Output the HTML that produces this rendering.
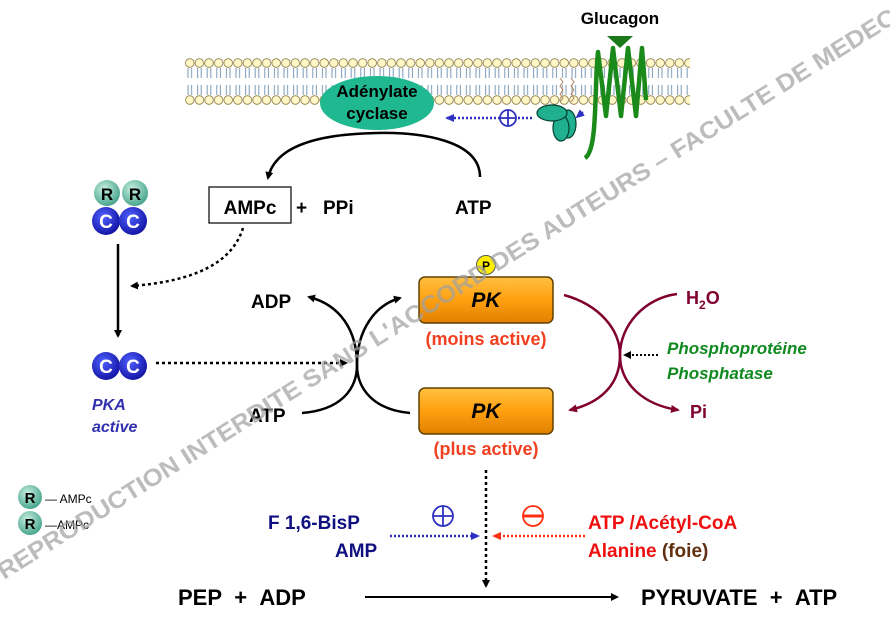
<!DOCTYPE html>
<html><head><meta charset="utf-8"><style>
body{margin:0;background:#fff}
svg{display:block;font-family:"Liberation Sans",Arial,sans-serif;font-weight:bold}
</style></head><body>
<svg width="890" height="626" viewBox="0 0 890 626" xmlns="http://www.w3.org/2000/svg">
<defs>
<pattern id="heads" x="185" y="0" width="9.6" height="200" patternUnits="userSpaceOnUse">
<circle cx="4.8" cy="63" r="4.3" fill="#fff7c8" stroke="#8a7a40" stroke-width="0.8"/>
<circle cx="4.8" cy="100" r="4.3" fill="#fff7c8" stroke="#8a7a40" stroke-width="0.8"/>
<path d="M3 68v10M6.6 68v10M3 85v10M6.6 85v10" stroke="#7a9ab8" stroke-width="1" fill="none"/>
</pattern>
<radialGradient id="teal" cx="0.4" cy="0.35" r="0.7"><stop offset="0" stop-color="#c8f0e0"/><stop offset="1" stop-color="#40a088"/></radialGradient>
<radialGradient id="blue" cx="0.4" cy="0.35" r="0.7"><stop offset="0" stop-color="#5060ff"/><stop offset="1" stop-color="#1010a0"/></radialGradient>
<linearGradient id="or" x1="0" y1="0" x2="0" y2="1"><stop offset="0" stop-color="#ffc040"/><stop offset="0.5" stop-color="#ffa010"/><stop offset="1" stop-color="#e08000"/></linearGradient>
<marker id="ab" markerWidth="8" markerHeight="8" refX="6" refY="4" orient="auto" markerUnits="userSpaceOnUse"><path d="M0,0L8,4L0,8z" fill="#000"/></marker>
<marker id="am" markerWidth="9" markerHeight="8" refX="7" refY="4" orient="auto" markerUnits="userSpaceOnUse"><path d="M0,0L9,4L0,8z" fill="#800030"/></marker>
<marker id="abl" markerWidth="9" markerHeight="8" refX="7" refY="4" orient="auto" markerUnits="userSpaceOnUse"><path d="M0,0L9,4L0,8z" fill="#3030c0"/></marker>
<marker id="ar" markerWidth="9" markerHeight="8" refX="7" refY="4" orient="auto" markerUnits="userSpaceOnUse"><path d="M0,0L9,4L0,8z" fill="#ff3010"/></marker>
</defs>

<rect x="185" y="55" width="505" height="52" fill="url(#heads)"/>

<path d="M585,158 C598,150 594,90 598,52 L606,116 L613,48 L621,116 L628,48 L636,116 L642,48 L646,100" fill="none" stroke="#1a8a1a" stroke-width="4.5" stroke-linejoin="round"/>
<path d="M607,36 L633,36 L620,48z" fill="#1a7a1a"/>
<text x="620" y="24" font-size="17" text-anchor="middle">Glucagon</text>

<path d="M560,78 l3,4 -3,4 3,4 -3,4 3,4 -3,4" stroke="#b08060" fill="none" stroke-width="1"/>
<path d="M571,78 l3,4 -3,4 3,4 -3,4 3,4 -3,4" stroke="#b08060" fill="none" stroke-width="1"/>
<ellipse cx="568" cy="124" rx="8" ry="14" fill="#20b090" stroke="#004030" stroke-width="1.2"/>
<ellipse cx="561" cy="128" rx="8" ry="13" fill="#20b090" stroke="#004030" stroke-width="1.2"/>
<ellipse cx="552" cy="113" rx="15" ry="8" fill="#20b090" stroke="#004030" stroke-width="1.2"/>
<path d="M583,112 l-6,5" stroke="#3030c0" stroke-width="2" stroke-dasharray="2,2" marker-end="url(#abl)"/>
<path d="M532,118 L447,118" stroke="#3030c0" stroke-width="2.5" stroke-dasharray="2,2" marker-end="url(#abl)"/>
<circle cx="508" cy="118" r="8" fill="#fff" stroke="#3030c0" stroke-width="1.8"/>
<path d="M500,118h16M508,110v16" stroke="#3030c0" stroke-width="1.8"/>

<ellipse cx="377" cy="103" rx="57" ry="27" fill="#20b890"/>
<text x="377" y="97" font-size="17" text-anchor="middle">Adénylate</text>
<text x="377" y="119" font-size="17" text-anchor="middle">cyclase</text>

<path d="M480,177 C480,140 420,132 377,133 C320,134 275,145 268,178" fill="none" stroke="#000" stroke-width="2.5" marker-end="url(#ab)"/>

<rect x="209" y="187" width="82" height="36" fill="#fff" stroke="#000" stroke-width="1.2"/>
<text x="250" y="214" font-size="19" text-anchor="middle">AMPc</text>
<text x="296" y="214" font-size="19">+</text>
<text x="323" y="214" font-size="19">PPi</text>
<text x="455" y="214" font-size="19">ATP</text>

<circle cx="107" cy="193" r="13" fill="url(#teal)"/><circle cx="135" cy="193" r="13" fill="url(#teal)"/>
<text x="107" y="200" font-size="17" text-anchor="middle">R</text><text x="135" y="200" font-size="17" text-anchor="middle">R</text>
<circle cx="106" cy="221" r="14" fill="url(#blue)"/><circle cx="133" cy="221" r="14" fill="url(#blue)"/>
<text x="106" y="228" font-size="19" fill="#fff" text-anchor="middle">C</text><text x="133" y="228" font-size="19" fill="#fff" text-anchor="middle">C</text>
<path d="M118,244 L118,336" stroke="#000" stroke-width="2.5" marker-end="url(#ab)"/>
<path d="M243,228 C230,270 180,282 132,286" fill="none" stroke="#000" stroke-width="2.5" stroke-dasharray="3,3" marker-end="url(#ab)"/>

<circle cx="106" cy="366" r="14" fill="url(#blue)"/><circle cx="133" cy="366" r="14" fill="url(#blue)"/>
<text x="106" y="373" font-size="19" fill="#fff" text-anchor="middle">C</text><text x="133" y="373" font-size="19" fill="#fff" text-anchor="middle">C</text>
<text x="92" y="410" font-size="16" font-style="italic" fill="#3030b0">PKA</text>
<text x="92" y="432" font-size="16" font-style="italic" fill="#3030b0">active</text>
<path d="M156,363 L346,363" stroke="#000" stroke-width="2.5" stroke-dasharray="3,3" marker-end="url(#ab)"/>

<path d="M302,413 C340,410 357,390 357,365 C357,330 340,305 309,297" fill="none" stroke="#000" stroke-width="2.5" marker-end="url(#ab)"/>
<path d="M410,413 C375,410 357,390 357,365 C357,330 375,305 400,298" fill="none" stroke="#000" stroke-width="2.5" marker-end="url(#ab)"/>
<text x="251" y="308" font-size="19">ADP</text>
<text x="249" y="422" font-size="19">ATP</text>

<rect x="419" y="277" width="134" height="46" rx="6" fill="url(#or)" stroke="#604000" stroke-width="1.5"/>
<circle cx="486" cy="265" r="9.5" fill="#ffee00" stroke="#555" stroke-width="1"/>
<text x="486" y="270" font-size="12" text-anchor="middle">P</text>
<text x="486" y="307" font-size="21" font-style="italic" text-anchor="middle">PK</text>
<text x="486" y="345" font-size="18" fill="#f04020" text-anchor="middle">(moins active)</text>
<rect x="419" y="388" width="134" height="46" rx="6" fill="url(#or)" stroke="#604000" stroke-width="1.5"/>
<text x="486" y="418" font-size="21" font-style="italic" text-anchor="middle">PK</text>
<text x="486" y="455" font-size="18" fill="#f04020" text-anchor="middle">(plus active)</text>

<path d="M564,295 C600,305 620,330 620,355 C620,385 600,403 570,410" fill="none" stroke="#800030" stroke-width="2.5" marker-end="url(#am)"/>
<path d="M677,294 C645,298 620,325 620,355 C620,385 645,405 678,410" fill="none" stroke="#800030" stroke-width="2.5" marker-end="url(#am)"/>
<text x="686" y="304" font-size="18" fill="#800030">H<tspan font-size="12" dy="5">2</tspan><tspan dy="-5">O</tspan></text>
<text x="690" y="418" font-size="18" fill="#800030">Pi</text>
<path d="M658,355 L625,355" stroke="#000" stroke-width="2" stroke-dasharray="2,2" marker-end="url(#ab)"/>
<text x="667" y="354" font-size="17" font-style="italic" fill="#108a20">Phosphoprotéine</text>
<text x="667" y="379" font-size="17" font-style="italic" fill="#108a20">Phosphatase</text>

<path d="M486,470 L486,586" stroke="#000" stroke-width="2.5" stroke-dasharray="3,3" marker-end="url(#ab)"/>
<text x="268" y="529" font-size="19" fill="#101080">F 1,6-BisP</text>
<text x="335" y="557" font-size="19" fill="#101080">AMP</text>
<circle cx="443" cy="516" r="10" fill="none" stroke="#3030c0" stroke-width="1.8"/>
<path d="M433,516h20M443,506v20" stroke="#3030c0" stroke-width="1.8"/>
<path d="M390,536 L478,536" stroke="#3030c0" stroke-width="2.5" stroke-dasharray="2,2" marker-end="url(#abl)"/>
<circle cx="533" cy="516" r="10" fill="none" stroke="#ff3010" stroke-width="1.8"/>
<path d="M523,516h20" stroke="#ff3010" stroke-width="3"/>
<path d="M585,536 L494,536" stroke="#ff3010" stroke-width="2.5" stroke-dasharray="2,2" marker-end="url(#ar)"/>
<text x="588" y="529" font-size="19" fill="#ee1010">ATP /Acétyl-CoA</text>
<text x="588" y="557" font-size="19" fill="#ee1010">Alanine <tspan fill="#603010">(foie)</tspan></text>

<text x="178" y="605" font-size="22">PEP&#160;&#160;+&#160;&#160;ADP</text>
<path d="M365,597 L617,597" stroke="#000" stroke-width="2" marker-end="url(#ab)"/>
<text x="641" y="605" font-size="22">PYRUVATE&#160;&#160;+&#160;&#160;ATP</text>

<circle cx="30" cy="497" r="12" fill="url(#teal)"/><circle cx="30" cy="523" r="12" fill="url(#teal)"/>
<text x="30" y="503" font-size="15" text-anchor="middle">R</text><text x="30" y="529" font-size="15" text-anchor="middle">R</text>
<text x="45" y="503" font-size="12" font-weight="normal">— AMPc</text>
<text x="45" y="529" font-size="12" font-weight="normal">—AMPc</text>

<text x="0" y="0" transform="translate(4,580) rotate(-32)" font-size="24" fill="#a0a0a0" fill-opacity="0.7" textLength="1080" lengthAdjust="spacingAndGlyphs">REPRODUCTION INTERDITE SANS L'ACCORD DES AUTEURS – FACULTE DE MEDECIN</text>
</svg>
</body></html>
